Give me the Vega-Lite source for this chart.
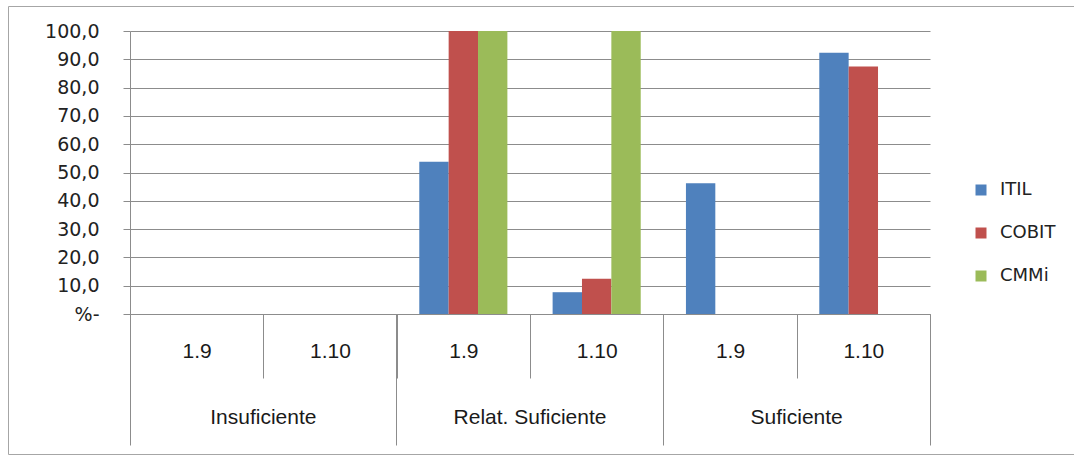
{
  "$schema": "https://vega.github.io/schema/vega-lite/v6.json",
  "width": 1067,
  "height": 448,
  "autosize": {"type": "none"},
  "padding": {"left": 8, "top": 6, "right": -1, "bottom": 2},
  "background": "white",
  "config": {
    "view": {"stroke": "#a6a6a6", "strokeWidth": 1},
    "axis": {
      "gridColor": "#8c8c8c",
      "gridWidth": 1,
      "gridOpacity": 1,
      "domainColor": "#8c8c8c",
      "domainWidth": 1,
      "tickColor": "#8c8c8c",
      "tickWidth": 1,
      "labelOverlap": false,
      "labelFlush": false,
      "labelBound": false
    },
    "legend": {
      "orient": "none",
      "legendX": 964,
      "legendY": 175,
      "symbolType": "square",
      "symbolSize": 121,
      "symbolStrokeWidth": 0,
      "labelFont": "DejaVu Sans",
      "labelFontSize": 18,
      "labelColor": "#222222",
      "labelOffset": 10,
      "rowPadding": 25,
      "padding": 0
    }
  },
  "data": {
    "values": [
      {"coluna": "Insuficiente|1.9", "modelo": "ITIL", "pct": 0},
      {"coluna": "Insuficiente|1.9", "modelo": "COBIT", "pct": 0},
      {"coluna": "Insuficiente|1.9", "modelo": "CMMi", "pct": 0},
      {"coluna": "Insuficiente|1.10", "modelo": "ITIL", "pct": 0},
      {"coluna": "Insuficiente|1.10", "modelo": "COBIT", "pct": 0},
      {"coluna": "Insuficiente|1.10", "modelo": "CMMi", "pct": 0},
      {"coluna": "Relat. Suficiente|1.9", "modelo": "ITIL", "pct": 53.8},
      {"coluna": "Relat. Suficiente|1.9", "modelo": "COBIT", "pct": 100},
      {"coluna": "Relat. Suficiente|1.9", "modelo": "CMMi", "pct": 100},
      {"coluna": "Relat. Suficiente|1.10", "modelo": "ITIL", "pct": 7.7},
      {"coluna": "Relat. Suficiente|1.10", "modelo": "COBIT", "pct": 12.5},
      {"coluna": "Relat. Suficiente|1.10", "modelo": "CMMi", "pct": 100},
      {"coluna": "Suficiente|1.9", "modelo": "ITIL", "pct": 46.2},
      {"coluna": "Suficiente|1.9", "modelo": "COBIT", "pct": 0},
      {"coluna": "Suficiente|1.9", "modelo": "CMMi", "pct": 0},
      {"coluna": "Suficiente|1.10", "modelo": "ITIL", "pct": 92.3},
      {"coluna": "Suficiente|1.10", "modelo": "COBIT", "pct": 87.5},
      {"coluna": "Suficiente|1.10", "modelo": "CMMi", "pct": 0}
    ]
  },
  "layer": [
    {
      "transform": [{"filter": "datum.modelo == 'ITIL'"}],
      "mark": {"type": "bar"},
      "encoding": {
        "x": {
          "field": "coluna",
          "type": "nominal",
          "scale": {
            "domain": ["Insuficiente|1.9", "Insuficiente|1.10", "Relat. Suficiente|1.9", "Relat. Suficiente|1.10", "Suficiente|1.9", "Suficiente|1.10"],
            "range": [122, 922],
            "paddingInner": 0,
            "paddingOuter": 0
          },
          "axis": {
            "orient": "bottom",
            "offset": -140,
            "title": null,
            "grid": false,
            "domain": true,
            "ticks": true,
            "tickBand": "extent",
            "tickSize": 64,
            "labelExpr": "datum.value ? split(datum.value, '|')[1] : ''",
            "labelAngle": 0,
            "labelBaseline": "middle",
            "labelPadding": -27,
            "labelFont": "Liberation Sans",
            "labelFontSize": 21,
            "labelColor": "#1a1a1a"
          }
        },
        "xOffset": {
          "field": "modelo",
          "type": "nominal",
          "scale": {"domain": ["ITIL", "COBIT", "CMMi"], "paddingInner": 0, "paddingOuter": 0.77}
        },
        "y": {
          "field": "pct",
          "type": "quantitative",
          "scale": {"domain": [0, 100], "range": [308, 25], "nice": false},
          "axis": {
            "orient": "left",
            "offset": -122,
            "title": null,
            "values": [0, 10, 20, 30, 40, 50, 60, 70, 80, 90, 100],
            "grid": true,
            "tickSize": 7,
            "labelPadding": 24,
            "labelFont": "DejaVu Sans",
            "labelFontSize": 19,
            "labelColor": "#222222",
            "labelExpr": "datum.value == 0 ? '%-\u2007\u2007' : replace(format(datum.value, '.1f'), '.', ',')"
          }
        },
        "color": {
          "field": "modelo",
          "type": "nominal",
          "scale": {"domain": ["ITIL", "COBIT", "CMMi"], "range": ["#4f81bd", "#c0504d", "#9bbb59"]},
          "legend": {"title": null}
        }
      }
    },
    {
      "transform": [{"filter": "datum.modelo == 'COBIT'"}],
      "mark": {"type": "bar"},
      "encoding": {
        "x": {
          "field": "coluna",
          "type": "nominal",
          "axis": {
            "orient": "bottom",
            "offset": -140,
            "title": null,
            "grid": false,
            "domain": false,
            "ticks": true,
            "bandPosition": 0,
            "tickExtra": false,
            "tickSize": 131,
            "values": ["Insuficiente|1.9", "Relat. Suficiente|1.9", "Suficiente|1.9"],
            "labelExpr": "datum.value ? split(datum.value, '|')[0] : ''",
            "labelAngle": 0,
            "labelBaseline": "middle",
            "labelOffset": 66.67,
            "labelPadding": -27.5,
            "labelFont": "Liberation Sans",
            "labelFontSize": 21,
            "labelColor": "#1a1a1a"
          }
        },
        "xOffset": {"field": "modelo", "type": "nominal"},
        "y": {
          "field": "pct",
          "type": "quantitative",
          "axis": {
            "orient": "left",
            "offset": -122,
            "title": null,
            "values": [0, 10, 20, 30, 40, 50, 60, 70, 80, 90, 100],
            "grid": true,
            "tickSize": 7,
            "labelPadding": 24,
            "labelFont": "DejaVu Sans",
            "labelFontSize": 19,
            "labelColor": "#222222",
            "labelExpr": "datum.value == 0 ? '%-\u2007\u2007' : replace(format(datum.value, '.1f'), '.', ',')"
          }
        },
        "color": {
          "field": "modelo",
          "type": "nominal",
          "scale": {"domain": ["ITIL", "COBIT", "CMMi"], "range": ["#4f81bd", "#c0504d", "#9bbb59"]},
          "legend": {"title": null}
        }
      }
    },
    {
      "transform": [{"filter": "datum.modelo == 'CMMi'"}],
      "mark": {"type": "bar"},
      "encoding": {
        "x": {
          "field": "coluna",
          "type": "nominal",
          "axis": {
            "orient": "bottom",
            "offset": -140,
            "title": null,
            "grid": false,
            "domain": false,
            "ticks": true,
            "labels": false,
            "bandPosition": 1,
            "tickExtra": false,
            "tickSize": 131,
            "values": ["Suficiente|1.10"]
          }
        },
        "xOffset": {"field": "modelo", "type": "nominal"},
        "y": {
          "field": "pct",
          "type": "quantitative",
          "axis": {
            "orient": "left",
            "offset": -122,
            "title": null,
            "values": [0, 10, 20, 30, 40, 50, 60, 70, 80, 90, 100],
            "grid": true,
            "tickSize": 7,
            "labelPadding": 24,
            "labelFont": "DejaVu Sans",
            "labelFontSize": 19,
            "labelColor": "#222222",
            "labelExpr": "datum.value == 0 ? '%-\u2007\u2007' : replace(format(datum.value, '.1f'), '.', ',')"
          }
        },
        "color": {
          "field": "modelo",
          "type": "nominal",
          "scale": {"domain": ["ITIL", "COBIT", "CMMi"], "range": ["#4f81bd", "#c0504d", "#9bbb59"]},
          "legend": {"title": null}
        }
      }
    }
  ],
  "resolve": {"axis": {"x": "independent"}}
}
